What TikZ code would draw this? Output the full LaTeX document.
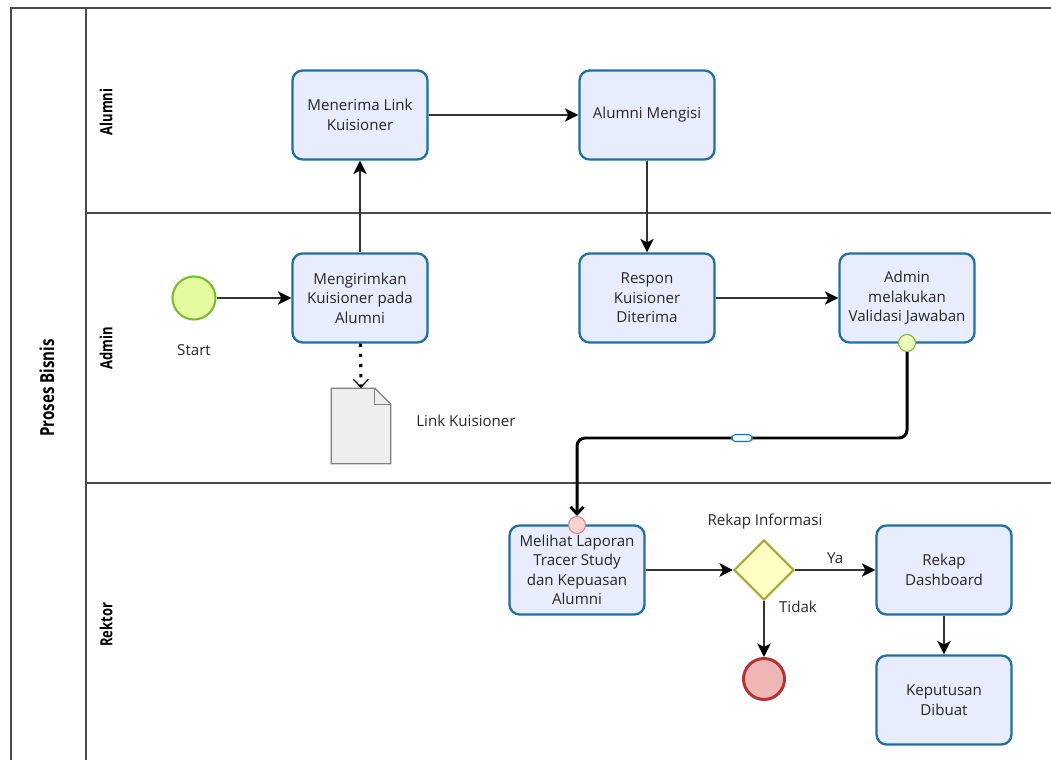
\documentclass[tikz,border=0pt]{standalone}
\usepackage{fontspec}
\setmainfont{Open Sans}
\newfontfamily\lanefont[FakeStretch=0.78]{Open Sans}
\usetikzlibrary{positioning,arrows.meta,shapes.geometric}
\definecolor{taskfill}{HTML}{E8EDFD}
\definecolor{taskline}{HTML}{1F6FA0}
\definecolor{startfill}{HTML}{E4FBA0}
\definecolor{startline}{HTML}{7DBA34}
\definecolor{endfill}{HTML}{EFB6B6}
\definecolor{endline}{HTML}{B33434}
\definecolor{gatefill}{HTML}{FDFDC4}
\definecolor{gateline}{HTML}{A8A838}
\definecolor{docfill}{HTML}{EEEEEE}
\definecolor{poolline}{HTML}{4A4A4A}
\definecolor{flowline}{HTML}{333333}
\tikzset{%
    every task/.style={
        rectangle,
        rounded corners=0.2cm,
        draw=taskline,
        fill=taskfill,
        line width=1.3pt,
        minimum width=2.7cm,
        minimum height=1.78cm,
        align=center,
        text=black!85,
        font=\fontsize{8.6}{11.1}\selectfont
    },
    task start/.style={
        circle,
        draw=startline,
        fill=startfill,
        line width=1.2pt,
        minimum size=0.86cm
    },
    task end/.style={
        circle,
        draw=endline,
        fill=endfill,
        line width=1.7pt,
        minimum size=0.82cm
    },
    task gate/.style={
        diamond,
        draw=gateline,
        fill=gatefill,
        line width=1.2pt,
        inner sep=0pt,
        minimum size=1.2cm
    },
    task doc/.style={
        rectangle,
        minimum width=1.18cm,
        minimum height=1.5cm
    },
    msg marker/.style={
        circle,
        line width=0.6pt,
        inner sep=0pt,
        minimum size=0.34cm
    },
    plain label/.style={
        text=black!85,
        font=\fontsize{8.6}{11.1}\selectfont
    },
    lane label/.style={
        rotate=90,
        font=\lanefont\bfseries\fontsize{9.5}{11}\selectfont
    },
    seq/.style={
        draw=flowline,
        line width=0.8pt,
        -{Stealth[length=2.7mm,width=2.7mm,inset=0.7mm,color=black]}
    },
    msg/.style={
        draw=black,
        line width=1.7pt,
        rounded corners=0.16cm
    },
}

\begin{document}
\begin{tikzpicture}[x=0.02cm, y=-0.02cm, >=latex]

        \useasboundingbox (0,0) rectangle (1051,760);
        \clip (0,0) rectangle (1051,760);

        % pool and lanes
        \draw [poolline, line width=0.8pt] (11,8) rectangle (1070,780);
        \draw [poolline, line width=0.8pt] (86,8) -- (86,780);
        \foreach \y in {213,483}
            \draw [poolline, line width=0.8pt] (86,\y) -- (1070,\y);

        \node [lane label, font=\lanefont\bfseries\fontsize{11}{13}\selectfont] (pool) at (47,388) {Proses Bisnis};
        \foreach \l/\y in {Alumni/112,Admin/348,Rektor/625}
            \node [lane label] (lane-\l) at (106,\y) {\l};

        % tasks
        \node [every task] (terima) at (360,115) {Menerima Link\\Kuisioner};
        \node [every task] (isi) at (647,115) {Alumni Mengisi};
        \node [every task] (kirim) at (360,298) {Mengirimkan\\Kuisioner pada\\Alumni};
        \node [every task] (respon) at (647,298) {Respon\\Kuisioner\\Diterima};
        \node [every task] (validasi) at (907,298) {Admin\\melakukan\\Validasi Jawaban};
        \node [every task] (laporan) at (577,570) {Melihat Laporan\\Tracer Study\\dan Kepuasan\\Alumni};
        \node [every task] (rekap) at (944,570) {Rekap\\Dashboard};
        \node [every task] (keputusan) at (944,700) {Keputusan\\Dibuat};

        % events and gateway
        \node [task start] (start) at (194,298) {};
        \node [plain label] (start-l) at (194,350) {Start};
        \node [task gate] (gate) at (764,570) {};
        \node [plain label] (gate-l) at (765,522) {Rekap Informasi};
        \node [task end] (end) at (764,679) {};

        % data object
        \node [task doc] (doc) at (361,426) {};
        \draw [poolline!70, fill=docfill, line width=0.7pt] (doc.south west) -- (doc.north west)
            -- ([xshift=-0.32cm]doc.north east) -- ([yshift=-0.32cm]doc.north east)
            -- (doc.south east) -- cycle;
        \draw [poolline!70, line width=0.7pt] ([xshift=-0.32cm]doc.north east)
            -- ([xshift=-0.32cm,yshift=-0.32cm]doc.north east) -- ([yshift=-0.32cm]doc.north east);
        \node [plain label] (doc-l) at (466,421) {Link Kuisioner};

        % sequence flows
        \draw [seq] (start) -- (kirim);
        \draw [seq] (kirim) -- (terima);
        \draw [seq] (terima) -- (isi);
        \draw [seq] (isi) -- (respon);
        \draw [seq] (respon) -- (validasi);
        \draw [seq] (laporan) -- (gate);
        \draw [seq] (gate) -- node [plain label, above, pos=0.5] (ya) {Ya} (rekap);
        \draw [seq] (gate) -- (end);
        \node [plain label] (tidak) at (798,607) {Tidak};
        \draw [seq] (rekap) -- (keputusan);

        % association
        \draw [line width=1.8pt, dash pattern=on 1.8pt off 4pt,
            -{Straight Barb[length=1.6mm,width=3mm,line width=0.7pt]}]
            (kirim) -- (doc.north);

        % message flow
        \node [msg marker, draw=startline, fill=startfill!70] (msg-a) at (907,343) {};
        \node [msg marker, draw=endline!60, fill=endfill!60] (msg-b) at (577,525) {};
        \node [rectangle, rounded corners=0.07cm, draw=taskline, fill=taskfill!60!cyan!20,
            line width=0.6pt, minimum width=0.4cm, minimum height=0.14cm, inner sep=0pt] (env) at (742,438) {};
        \draw [msg] (msg-a.south) |- (env.east);
        \draw [msg, -{Straight Barb[length=1.4mm,width=2.6mm]}] (env.west) -| (msg-b.north);

    \end{tikzpicture}
\end{document}
